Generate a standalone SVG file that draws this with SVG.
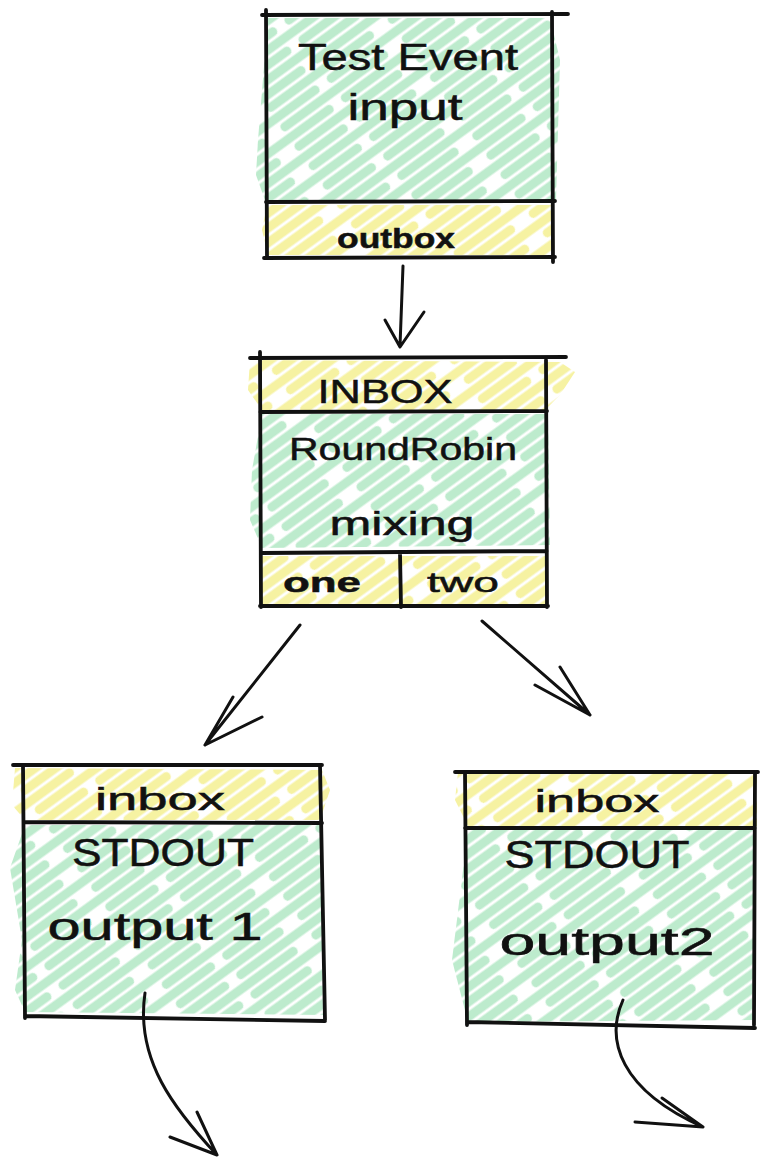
<svg xmlns="http://www.w3.org/2000/svg" width="764" height="1160" viewBox="0 0 764 1160">
  <style>
    .edge { fill: none; stroke: #111; stroke-width: 3.8; stroke-linecap: round; stroke-linejoin: round; }
    .conn { fill: none; stroke: #111; stroke-width: 3; stroke-linecap: round; stroke-linejoin: round; }
    .lbl { font-family: "Liberation Sans", Arial, sans-serif; fill: #111; stroke: #111; stroke-width: 0.5; text-anchor: middle; }
    .green { fill: url(#hatchGreen); }
    .yellow { fill: url(#hatchYellow); }
  </style>
  <defs>
    <!-- diagonal crayon-like hatching: long, slightly broken thick strokes -->
    <pattern id="hatchGreen" patternUnits="userSpaceOnUse" width="150" height="24" patternTransform="rotate(-36)">
      <g stroke="#bdebcd" stroke-width="9" stroke-linecap="round">
        <line x1="6" y1="6" x2="128" y2="6"/>
        <line x1="72" y1="18" x2="156" y2="18"/>
        <line x1="-6" y1="18" x2="52" y2="18"/>
      </g>
    </pattern>
    <pattern id="hatchYellow" patternUnits="userSpaceOnUse" width="150" height="24" patternTransform="rotate(-36)">
      <g stroke="#f6f2a2" stroke-width="9" stroke-linecap="round">
        <line x1="6" y1="6" x2="128" y2="6"/>
        <line x1="72" y1="18" x2="156" y2="18"/>
        <line x1="-6" y1="18" x2="52" y2="18"/>
      </g>
    </pattern>
  </defs>

  <rect width="764" height="1160" fill="#ffffff"/>

  <!-- Test Event source -->
  <g id="node-test-event">
    <polygon class="green" points="268,18 550,18 560,60 556,200 266,203 256,175 258,140"/>
    <polygon class="yellow" points="267,205 552,205 555,255 268,255 262,230"/>
    <path class="edge" d="M262,15 L568,14 M266,10 L267,258 M552,12 L553,262 M266,202 L555,201 M264,258 L555,257"/>
    <text class="lbl" x="408" y="70" font-size="36" textLength="220" lengthAdjust="spacingAndGlyphs">Test Event</text>
    <text class="lbl" x="405" y="120" font-size="36" textLength="115" lengthAdjust="spacingAndGlyphs">input</text>
    <text class="lbl" x="396" y="248" font-size="28" font-weight="bold" textLength="118" lengthAdjust="spacingAndGlyphs">outbox</text>
  </g>

  <!-- RoundRobin mixing -->
  <g id="node-roundrobin">
    <polygon class="yellow" points="250,360 560,362 575,372 560,395 545,410 262,410 248,390"/>
    <polygon class="green" points="262,414 548,414 550,545 262,548 250,520 252,470"/>
    <polygon class="yellow" points="262,556 547,556 548,604 262,604"/>
    <path class="edge" d="M250,358 L566,357 M260,352 L261,607 M546,360 L547,607 M260,412 L547,411 M261,553 L547,551 M400,553 L401,607 M260,606 L548,606"/>
    <text class="lbl" x="385" y="403" font-size="34" textLength="135" lengthAdjust="spacingAndGlyphs">INBOX</text>
    <text class="lbl" x="403" y="460" font-size="32" textLength="228" lengthAdjust="spacingAndGlyphs">RoundRobin</text>
    <text class="lbl" x="402" y="535" font-size="34" textLength="145" lengthAdjust="spacingAndGlyphs">mixing</text>
    <text class="lbl" x="322" y="592" font-size="28" font-weight="bold" textLength="78" lengthAdjust="spacingAndGlyphs">one</text>
    <text class="lbl" x="463" y="592" font-size="28" textLength="72" lengthAdjust="spacingAndGlyphs">two</text>
  </g>

  <!-- STDOUT output 1 -->
  <g id="node-stdout-1">
    <polygon class="yellow" points="15,768 322,770 330,790 320,820 25,820 12,805"/>
    <polygon class="green" points="25,825 320,825 323,1015 25,1012 15,990 22,940 10,868"/>
    <path class="edge" d="M13,765 L322,765 M23,765 L25,1018 M320,765 L325,1020 M24,822 L322,823 M25,1016 L325,1021"/>
    <text class="lbl" x="160" y="810" font-size="32" textLength="130" lengthAdjust="spacingAndGlyphs">inbox</text>
    <text class="lbl" x="163" y="866" font-size="38" textLength="182" lengthAdjust="spacingAndGlyphs">STDOUT</text>
    <text class="lbl" x="155" y="940" font-size="38" textLength="215" lengthAdjust="spacingAndGlyphs">output 1</text>
  </g>

  <!-- STDOUT output 2 -->
  <g id="node-stdout-2">
    <polygon class="yellow" points="458,772 757,774 757,826 468,826 455,800"/>
    <polygon class="green" points="468,830 755,830 752,1020 468,1022 452,960"/>
    <path class="edge" d="M455,772 L758,772 M465,772 L467,1025 M755,772 L754,1025 M465,828 L755,828 M467,1022 L755,1028"/>
    <text class="lbl" x="597" y="812" font-size="32" textLength="125" lengthAdjust="spacingAndGlyphs">inbox</text>
    <text class="lbl" x="597" y="868" font-size="38" textLength="185" lengthAdjust="spacingAndGlyphs">STDOUT</text>
    <text class="lbl" x="607" y="955" font-size="38" textLength="215" lengthAdjust="spacingAndGlyphs">output2</text>
  </g>

  <!-- connectors -->
  <g id="connectors">
    <path class="conn" d="M403,266 L400,346 M385,320 L400,347 L424,312"/>
    <path class="conn" d="M300,625 L205,745 M233,697 L205,745 L262,717"/>
    <path class="conn" d="M482,621 L590,715 M560,667 L590,715 L535,685"/>
    <path class="conn" d="M145,993 C135,1060 175,1110 217,1155 M197,1112 L217,1155 L170,1137"/>
    <path class="conn" d="M623,1000 C605,1040 620,1090 703,1127 M662,1098 L703,1127 L635,1122"/>
  </g>
</svg>
